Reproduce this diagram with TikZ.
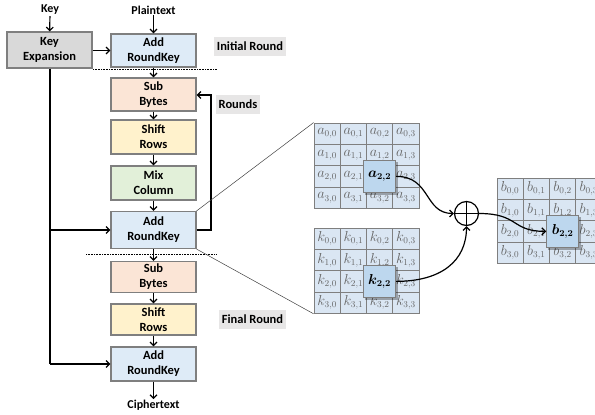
\documentclass[tikz,border=0pt]{standalone}
\usepackage{amsmath}
\usepackage{fontspec}
\setmainfont{Carlito}
\usetikzlibrary{arrows.meta}
\definecolor{boxborder}{HTML}{7F7F7F}
\definecolor{kexpfill}{HTML}{D9D9D9}
\definecolor{arkfill}{HTML}{DEEBF7}
\definecolor{sbfill}{HTML}{FBE5D6}
\definecolor{srfill}{HTML}{FFF2CC}
\definecolor{mcfill}{HTML}{E2F0D9}
\definecolor{labelgray}{HTML}{E7E6E6}
\definecolor{cellfill}{HTML}{DAE6F3}
\definecolor{hlfill}{HTML}{BDD7EE}
\definecolor{celltext}{HTML}{666666}
\definecolor{zoomline}{HTML}{404040}
\begin{document}
\begin{tikzpicture}[x=1pt,y=-1pt,
  stagebox/.style={draw=boxborder, line width=1.2pt, minimum width=85pt, minimum height=34pt,
    inner sep=1pt, align=center, font=\fontsize{12.5}{15}\selectfont\bfseries},
  plain/.style={inner sep=1pt, font=\fontsize{12}{14}\selectfont\bfseries},
  roundlabel/.style={fill=labelgray, inner xsep=3pt, minimum height=19pt, font=\fontsize{12.5}{14}\selectfont\bfseries},
  conn/.style={line width=1.2pt, -{Straight Barb[length=3.5pt,width=7pt,line width=1.2pt]}},
  sep/.style={line width=0.6pt, densely dotted},
  zoomlink/.style={draw=zoomline, line width=0.5pt},
  cell/.style={draw=boxborder, fill=cellfill, line width=0.8pt, minimum width=26.25pt, minimum height=21.35pt,
    inner sep=0pt, text=celltext, font=\fontsize{13.5}{15}\selectfont},
  hlbox/.style={draw=boxborder, fill=hlfill, line width=1pt, minimum width=32pt, minimum height=32pt,
    inner sep=0pt, font=\fontsize{13.5}{15}\selectfont},
  hlshadow/.style={fill=black, opacity=0.3, minimum width=33pt, minimum height=33pt, inner sep=0pt},
  xorcirc/.style={draw, circle, line width=1.2pt, minimum size=24pt, inner sep=0pt}
]
\useasboundingbox (0,0) rectangle (595,415);

% ---- left column ----
\node[plain] (key) at (50,10) {Key};
\node[plain] (pt) at (153.5,10) {Plaintext};
\node[stagebox, fill=kexpfill, minimum height=36pt] (kexp) at (49.5,50) {Key\\Expansion};
\node[stagebox, fill=arkfill, minimum height=33pt] (ark0) at (153.5,50.5) {Add\\RoundKey};
\node[stagebox, fill=sbfill, minimum height=33pt] (sb1) at (153.5,94.5) {Sub\\Bytes};
\node[stagebox, fill=srfill] (sr1) at (153.5,137) {Shift\\Rows};
\node[stagebox, fill=mcfill] (mc) at (153.5,183) {Mix\\Column};
\node[stagebox, fill=arkfill, minimum height=37pt] (ark1) at (153.5,230) {Add\\RoundKey};
\node[stagebox, fill=sbfill, minimum height=31pt] (sb2) at (153.5,277) {Sub\\Bytes};
\node[stagebox, fill=srfill, minimum height=31pt] (sr2) at (153.5,319.5) {Shift\\Rows};
\node[stagebox, fill=arkfill, minimum height=34pt] (ark2) at (153.5,364) {Add\\RoundKey};
\node[plain] (ct) at (153.5,405.5) {Ciphertext};

\node[roundlabel] (linit) at (250,46.5) {Initial Round};
\node[roundlabel] (lrounds) at (238,104.5) {Rounds};
\node[roundlabel] (lfinal) at (252.5,319) {Final Round};

% separators
\coordinate (s1a) at (93,69.5);  \coordinate (s1b) at (217,69.5);
\coordinate (s2a) at (86,254);   \coordinate (s2b) at (216,254);
\draw[sep] (s1a) -- (s1b);
\draw[sep] (s2a) -- (s2b);

% arrows
\draw[conn] (key) -- (kexp);
\draw[conn] (pt) -- (ark0);
\draw[conn] (kexp.east |- ark0.west) -- (ark0.west);
\draw[conn] (ark0) -- (sb1);
\draw[conn] (sb1) -- (sr1);
\draw[conn] (sr1) -- (mc);
\draw[conn] (mc) -- (ark1);
\draw[conn] (ark1) -- (sb2);
\draw[conn] (sb2) -- (sr2);
\draw[conn] (sr2) -- (ark2);
\draw[conn] (ark2) -- (ct);
\coordinate (kdown) at (50,364);
\coordinate (kbranch) at (50,230);
\draw[line width=1.2pt] (kexp.south -| kdown) -- (kdown);
\draw[conn] (kdown) -- (ark2.west);
\draw[conn] (kbranch) -- (ark1.west);
\coordinate (loopr) at (211,230);
\coordinate (loopt) at (211,95);
\draw[conn] (ark1.east) -- (loopr) -- (loopt) -- (sb1.east |- loopt);

% ---- matrices ----
\foreach \mm/\mx/\my in {a/314/123, k/314/228, b/497/178} {
  \foreach \ii in {0,...,3} {
    \foreach \jj in {0,...,3} {
      \node[cell] (\mm-\ii-\jj) at ({\mx+(\jj+0.5)*26.25},{\my+(\ii+0.5)*21.35}) {$\mm_{\ii,\jj}$};
    }
  }
}
\coordinate (atl) at (a-0-0.north west);
\coordinate (kbl) at (k-3-0.south west);
\draw[zoomlink] (ark1.north east) -- (atl);
\draw[zoomlink] (ark1.south east) -- (kbl);

\node[hlshadow] (as) at ([xshift=2pt,yshift=-2pt]a-2-2.center) {};
\node[hlbox] (atwo) at (a-2-2.center) {$\boldsymbol{a_{2,2}}$};
\node[hlshadow] (ks) at ([xshift=2pt,yshift=-2pt]k-2-2.center) {};
\node[hlbox] (ktwo) at (k-2-2.center) {$\boldsymbol{k_{2,2}}$};
\node[hlshadow] (bs) at ([xshift=2pt,yshift=-2pt]b-2-2.center) {};
\node[hlbox] (btwo) at (b-2-2.center) {$\boldsymbol{b_{2,2}}$};

% xor
\node[xorcirc] (xor) at (466.5,213.5) {};
\draw[line width=1.2pt] (xor.north) -- (xor.south) (xor.west) -- (xor.east);

\draw[conn] (atwo.east) .. controls +(35,0) and +(-30,0) .. (xor.west);
\draw[conn] (ktwo.east) .. controls +(45,0) and +(0,35) .. (xor.south);
\draw[conn] (xor.east) .. controls +(40,0) and +(-35,0) .. (btwo.west);
\end{tikzpicture}
\end{document}
